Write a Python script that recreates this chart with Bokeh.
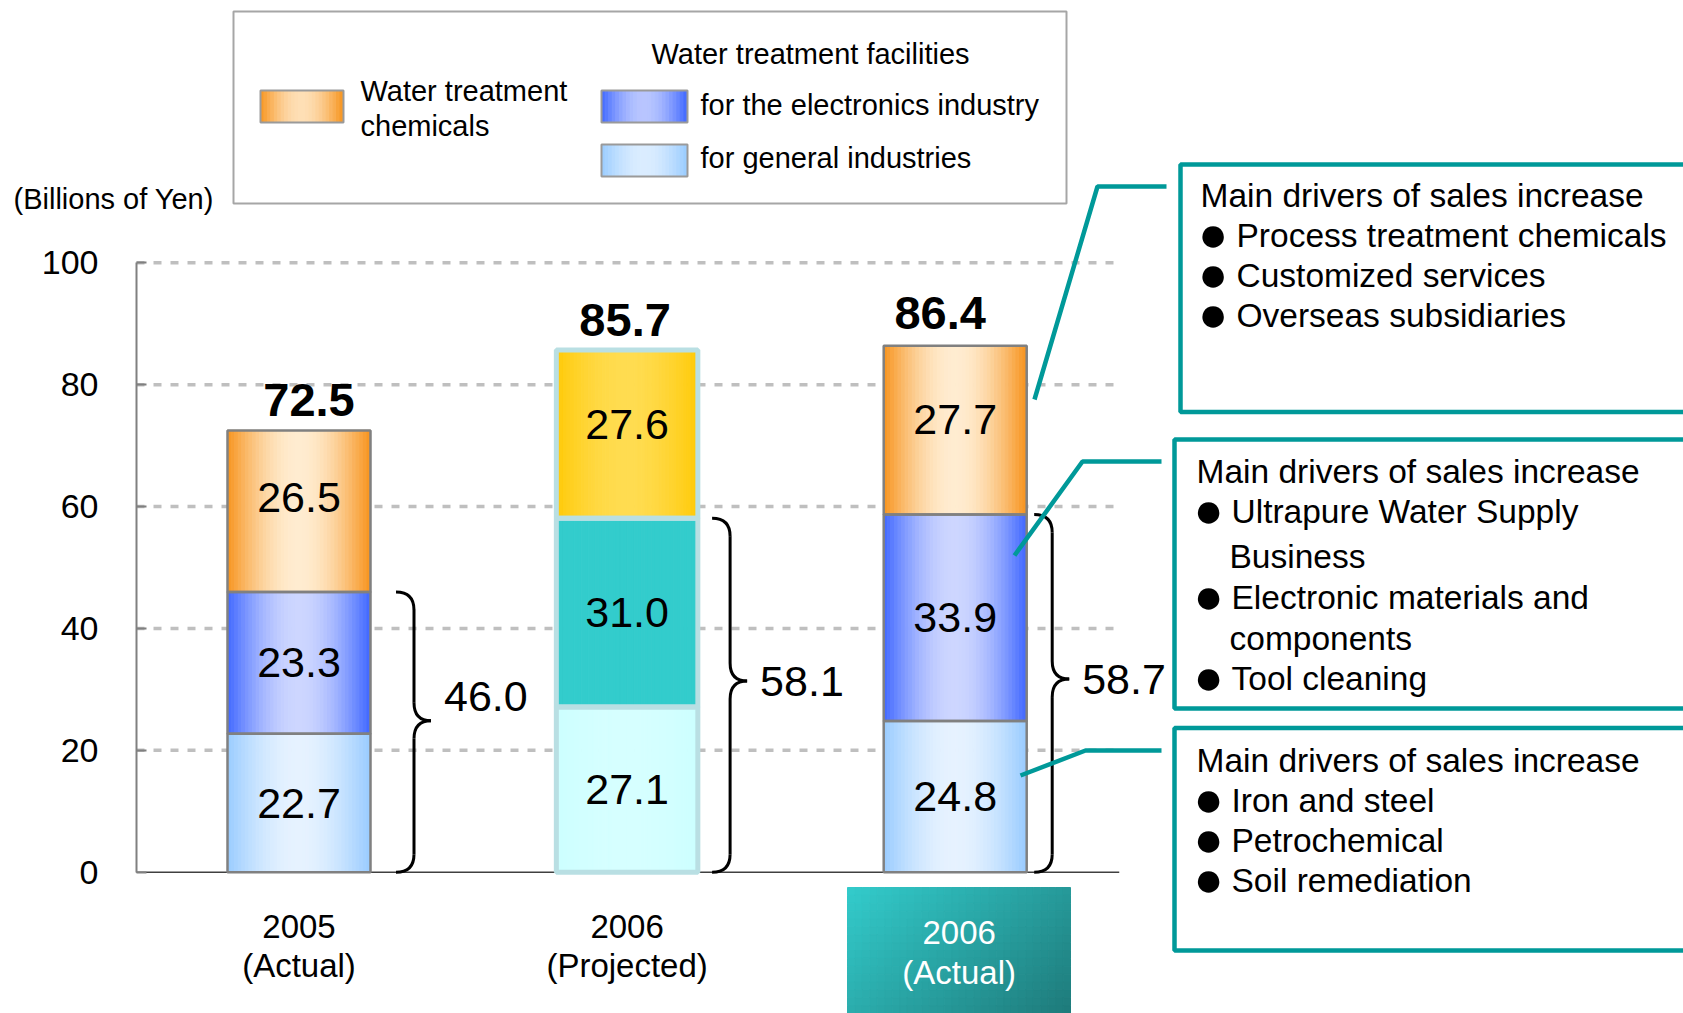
import numpy as np
from bokeh.plotting import figure
from bokeh.models import Range1d, FixedTicker, ColumnDataSource, LinearAxis
from bokeh.embed import file_html
from bokeh.resources import INLINE
from bokeh.core.properties import value

# ---------------- data ----------------
year_labels = ["2005", "2006", "2006"]
kind_labels = ["(Actual)", "(Projected)", "(Actual)"]
general_ind = [22.7, 27.1, 24.8]        # facilities for general industries
electronics_ind = [23.3, 31.0, 33.9]    # facilities for the electronics industry
chemicals = [26.5, 27.6, 27.7]          # water treatment chemicals
totals = [72.5, 85.7, 86.4]
facilities_totals = [46.0, 58.1, 58.7]
y_ticks = [0, 20, 40, 60, 80, 100]

unit_label = "(Billions of Yen)"
legend_chem = ["Water treatment", "chemicals"]
legend_fac_title = "Water treatment facilities"
legend_elec = "for the electronics industry"
legend_gen = "for general industries"

notes_title = "Main drivers of sales increase"
notes_chem = ["Process treatment chemicals", "Customized services", "Overseas subsidiaries"]
notes_elec = ["Ultrapure Water Supply", "Business", "Electronic materials and", "components", "Tool cleaning"]
notes_elec_bullet = [True, False, True, False, True]
notes_gen = ["Iron and steel", "Petrochemical", "Soil remediation"]

# ---------------- layout (pixels of the page) ----------------
W, H = 1683, 1013
AXIS_PX = 136
CAT_PX, CAT0_PX = 328.1, 298.5
VAL_PX, VAL0_PX = 6.094, 871.7
FONT = "Liberation Sans"


def X(px):
    return (px - CAT0_PX) / CAT_PX


def Y(py):
    return (VAL0_PX - py) / VAL_PX


def mix(c1, c2, w):
    return "#%02x%02x%02x" % tuple(int(round(a + (b - a) * w)) for a, b in zip(c1, c2))


p = figure(width=W, height=H, output_backend="svg", toolbar_location=None,
           x_range=Range1d(X(0), X(W)), y_range=Range1d(Y(H), Y(0)),
           x_axis_location=None, y_axis_location=None, title=None,
           min_border_left=0, min_border_right=0, min_border_top=0, min_border_bottom=0)
p.outline_line_color = None
p.background_fill_color = "white"
p.border_fill_color = "white"
for g in p.grid:
    g.visible = False

# value axis, pinned at the left edge of the plotting area
yax = LinearAxis(fixed_location=X(AXIS_PX), ticker=FixedTicker(ticks=y_ticks),
                 bounds=(min(y_ticks), max(y_ticks)),
                 axis_line_color="#808080", axis_line_width=2,
                 major_tick_in=10, major_tick_out=0,
                 major_tick_line_color="#808080", major_tick_line_width=2,
                 minor_tick_line_color=None, major_label_standoff=38,
                 major_label_text_font=FONT, major_label_text_font_size="34px",
                 major_label_text_color="black")
p.add_layout(yax, "left")

n = len(year_labels)
xs = list(range(n))

# gridlines and baseline
grid_y = [t for t in y_ticks if t > 0]
p.segment(x0=X(AXIS_PX), y0=grid_y, x1=n - 0.5, y1=grid_y, line_color="#BFBFBF",
          line_width=3.5, line_dash="8 9")
p.segment(x0=[X(AXIS_PX)], y0=[0], x1=[n - 0.5], y1=[0], line_color="#404040", line_width=1.5)

p.text(x=[X(13)], y=[Y(198.6)], text=[unit_label], text_font=value(FONT),
       text_font_size=value("29px"), text_align="left", text_baseline="middle",
       text_color="black")

# ---------------- bars ----------------
ORANGE = ((247, 148, 30), (255, 236, 208))
BLUE = ((64, 104, 255), (205, 214, 255))
LBLUE = ((153, 204, 255), (230, 242, 255))
YELLOW = ((255, 202, 8), (255, 220, 80))
TEAL = ((51, 204, 204), (51, 204, 204))
LCYAN = ((204, 255, 255), (214, 255, 255))

bar_styles = [
    dict(w=143, line="#808080", lw=2.5, fills=[LBLUE, BLUE, ORANGE], top_dy=-14,
         tot_dx=10, tot_dy=-30),
    dict(w=141.5, line="#B9DFE3", lw=5, fills=[LCYAN, TEAL, YELLOW], top_dy=-10,
         tot_dx=-2, tot_dy=-30),
    dict(w=143, line="#808080", lw=2.5, fills=[LBLUE, BLUE, ORANGE], top_dy=-11,
         tot_dx=-15, tot_dy=-33),
]

NS = 40
strips = dict(left=[], right=[], bottom=[], top=[], color=[])
outl = dict(left=[], right=[], bottom=[], top=[], line=[], lw=[])
seg_lab = dict(x=[], y=[], text=[], dy=[])
for i in range(n):
    st = bar_styles[i]
    bw = st["w"] / CAT_PX
    vals = [general_ind[i], electronics_ind[i], chemicals[i]]
    base = 0.0
    for s, v in enumerate(vals):
        edge, center = st["fills"][s]
        for k in range(NS):
            t = (k + 0.5) / NS
            wgt = np.sin(np.pi * t)
            strips["left"].append(i - bw / 2 + k * bw / NS)
            strips["right"].append(i - bw / 2 + (k + 1) * bw / NS)
            strips["bottom"].append(base)
            strips["top"].append(base + v)
            strips["color"].append(mix(edge, center, wgt))
        outl["left"].append(i - bw / 2)
        outl["right"].append(i + bw / 2)
        outl["bottom"].append(base)
        outl["top"].append(base + v)
        outl["line"].append(st["line"])
        outl["lw"].append(st["lw"])
        seg_lab["x"].append(i)
        seg_lab["y"].append(base + v / 2)
        seg_lab["text"].append(f"{v:.1f}")
        seg_lab["dy"].append(st["top_dy"] if s == 2 else 0)
        base += v

p.quad(source=ColumnDataSource(strips), left="left", right="right", bottom="bottom",
       top="top", fill_color="color", line_color="color", line_width=1)
p.quad(source=ColumnDataSource(outl), left="left", right="right", bottom="bottom",
       top="top", fill_color=None, line_color="line", line_width="lw")

p.text(source=ColumnDataSource(seg_lab), x="x", y="y", text="text", y_offset="dy",
       text_font=value(FONT), text_font_size=value("43px"), text_align="center",
       text_baseline="middle", text_color="black")

# totals
tot_src = ColumnDataSource(dict(x=xs, y=totals, text=[f"{t:.1f}" for t in totals],
                                dx=[st["tot_dx"] for st in bar_styles],
                                dy=[st["tot_dy"] for st in bar_styles]))
p.text(source=tot_src, x="x", y="y", text="text", x_offset="dx", y_offset="dy",
       text_font=value(FONT), text_font_size=value("47px"), text_font_style="bold",
       text_align="center", text_baseline="middle", text_color="black")

# ---------------- braces for facilities totals ----------------
spine_px = [115, 103, 97]
lab_dy = [-24, 0, 0]
r = 18 / VAL_PX
q = dict(x0=[], y0=[], x1=[], y1=[], cx=[], cy=[])
sg = dict(x0=[], y0=[], x1=[], y1=[])
bl = dict(x=[], y=[], text=[], dy=[])
for i, ft in enumerate(facilities_totals):
    sx = i + spine_px[i] / CAT_PX
    hx = sx - 18 / CAT_PX
    tx = sx + 17 / CAT_PX
    top, bot, tip = ft, 0.0, 0.54 * ft
    for (a, b, c) in [((hx, top), (sx, top - r), (sx, top)),
                      ((sx, tip + r), (tx, tip), (sx, tip)),
                      ((tx, tip), (sx, tip - r), (sx, tip)),
                      ((sx, bot + r), (hx, bot), (sx, bot))]:
        q["x0"].append(a[0]); q["y0"].append(a[1])
        q["x1"].append(b[0]); q["y1"].append(b[1])
        q["cx"].append(c[0]); q["cy"].append(c[1])
    for (a, b) in [((sx, top - r), (sx, tip + r)), ((sx, tip - r), (sx, bot + r))]:
        sg["x0"].append(a[0]); sg["y0"].append(a[1])
        sg["x1"].append(b[0]); sg["y1"].append(b[1])
    bl["x"].append(sx + 30 / CAT_PX)
    bl["y"].append(tip)
    bl["text"].append(f"{ft:.1f}")
    bl["dy"].append(lab_dy[i])

p.quadratic(source=ColumnDataSource(q), x0="x0", y0="y0", x1="x1", y1="y1",
            cx="cx", cy="cy", line_color="black", line_width=3)
p.segment(source=ColumnDataSource(sg), x0="x0", y0="y0", x1="x1", y1="y1",
          line_color="black", line_width=3)
p.text(source=ColumnDataSource(bl), x="x", y="y", text="text", y_offset="dy",
       text_font=value(FONT), text_font_size=value("43px"), text_align="left",
       text_baseline="middle", text_color="black")

# ---------------- category labels ----------------
bx0, bx1, by0, by1 = 847, 1070, 887, 1013
cells = dict(left=[], right=[], bottom=[], top=[], color=[])
NX, NY = 30, 16
for a in range(NX):
    for b in range(NY):
        u, v = (a + 0.5) / NX, (b + 0.5) / NY
        cells["left"].append(X(bx0 + (bx1 - bx0) * a / NX))
        cells["right"].append(X(bx0 + (bx1 - bx0) * (a + 1) / NX))
        cells["top"].append(Y(by0 + (by1 - by0) * b / NY))
        cells["bottom"].append(Y(by0 + (by1 - by0) * (b + 1) / NY))
        cells["color"].append(mix((51, 204, 204), (30, 122, 122), 0.62 * u + 0.38 * v))
p.quad(source=ColumnDataSource(cells), left="left", right="right", bottom="bottom",
       top="top", fill_color="color", line_color="color", line_width=1)

cat_color = ["black", "black", "white"]
year_y = [Y(926), Y(926), Y(932)]
kind_y = [Y(965), Y(965), Y(972)]
cat_x = [i + (4 / CAT_PX if i == 2 else 0) for i in xs]
p.text(x=cat_x, y=year_y, text=year_labels, text_color=cat_color,
       text_font=value(FONT), text_font_size=value("33px"), text_align="center",
       text_baseline="middle")
p.text(x=cat_x, y=kind_y, text=kind_labels, text_color=cat_color,
       text_font=value(FONT), text_font_size=value("33px"), text_align="center",
       text_baseline="middle")

# ---------------- legend ----------------
p.quad(left=[X(233)], right=[X(1066)], top=[Y(11)], bottom=[Y(203)],
       fill_color="white", line_color="#A6A6A6", line_width=2)

sw = dict(left=[], right=[], bottom=[], top=[], color=[])
swo = dict(left=[], right=[], bottom=[], top=[])
for (l, rr, t, b, (edge, center)) in [(260, 343, 90, 122, ORANGE), (601, 687, 90, 122, BLUE),
                                      (601, 687, 144, 176, LBLUE)]:
    for k in range(24):
        tt = (k + 0.5) / 24
        sw["left"].append(X(l + (rr - l) * k / 24))
        sw["right"].append(X(l + (rr - l) * (k + 1) / 24))
        sw["top"].append(Y(t))
        sw["bottom"].append(Y(b))
        sw["color"].append(mix(edge, center, np.sin(np.pi * tt) * 0.85))
    swo["left"].append(X(l)); swo["right"].append(X(rr))
    swo["top"].append(Y(t)); swo["bottom"].append(Y(b))
p.quad(source=ColumnDataSource(sw), left="left", right="right", bottom="bottom",
       top="top", fill_color="color", line_color="color", line_width=1)
p.quad(source=ColumnDataSource(swo), left="left", right="right", bottom="bottom",
       top="top", fill_color=None, line_color="#9A9A9A", line_width=2)

p.text(x=[X(360), X(360), X(651), X(700), X(700)],
       y=[Y(90), Y(125.5), Y(53.7), Y(104), Y(157.8)],
       text=legend_chem + [legend_fac_title, legend_elec, legend_gen],
       text_font=value(FONT), text_font_size=value("29px"), text_align="left",
       text_baseline="middle", text_color="black")

# ---------------- annotation boxes ----------------
TEALLINE = "#009999"
p.quad(left=[X(1180), X(1174), X(1174)], right=[X(1720)] * 3,
       top=[Y(164), Y(439), Y(727.5)], bottom=[Y(411.5), Y(708), Y(950)],
       fill_color=None, line_color=TEALLINE, line_width=4.5)

p.multi_line(xs=[[X(1166), X(1097), X(1034)], [X(1161), X(1082), X(1014)],
                 [X(1161), X(1085), X(1020)]],
             ys=[[Y(186), Y(186), Y(399)], [Y(461), Y(461), Y(555)],
                 [Y(750), Y(750), Y(775)]],
             line_color=TEALLINE, line_width=4.5)

nt = dict(x=[], y=[], text=[])
bu = dict(x=[], y=[])
nt["x"].append(X(1200)); nt["y"].append(Y(195)); nt["text"].append(notes_title)
for j, s in enumerate(notes_chem):
    yy = 235 + 40 * j
    nt["x"].append(X(1236)); nt["y"].append(Y(yy)); nt["text"].append(s)
    bu["x"].append(X(1212.5)); bu["y"].append(Y(yy - 2))
nt["x"].append(X(1196)); nt["y"].append(Y(471)); nt["text"].append(notes_title)
elec_center = [511, 556, 597, 638, 678]
for s, b, yc in zip(notes_elec, notes_elec_bullet, elec_center):
    nt["x"].append(X(1231 if b else 1229)); nt["y"].append(Y(yc)); nt["text"].append(s)
    if b:
        bu["x"].append(X(1208)); bu["y"].append(Y(yc - 2))
nt["x"].append(X(1196)); nt["y"].append(Y(760)); nt["text"].append(notes_title)
for j, s in enumerate(notes_gen):
    yy = 800 + 40 * j
    nt["x"].append(X(1231)); nt["y"].append(Y(yy)); nt["text"].append(s)
    bu["x"].append(X(1208)); bu["y"].append(Y(yy - 2))

p.text(source=ColumnDataSource(nt), x="x", y="y", text="text",
       text_font=value(FONT), text_font_size=value("33.5px"), text_align="left",
       text_baseline="middle", text_color="black")
p.text(source=ColumnDataSource(bu), x="x", y="y", text=value("●"),
       text_font=value(FONT), text_font_size=value("50px"), text_align="center",
       text_baseline="middle", text_color="black")

open("out.html", "w").write(file_html(p, INLINE))
